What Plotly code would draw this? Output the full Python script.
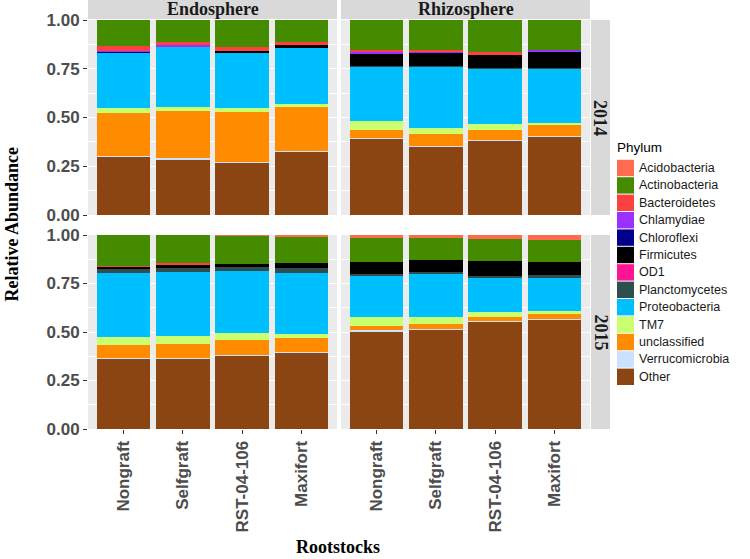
import plotly.graph_objects as go

# ---------------- data ----------------
rootstocks = ["Nongraft", "Selfgraft", "RST-04-106", "Maxifort"]
compartments = ["Endosphere", "Rhizosphere"]
years = ["2014", "2015"]
phyla = ["Acidobacteria", "Actinobacteria", "Bacteroidetes", "Chlamydiae", "Chloroflexi",
         "Firmicutes", "OD1", "Planctomycetes", "Proteobacteria", "TM7", "unclassified",
         "Verrucomicrobia", "Other"]
phylum_colors = ["#FF6A50", "#458B00", "#FF4040", "#9B30FF", "#00008B", "#000000", "#FF1493",
                 "#2F4F4F", "#00BFFF", "#CAFF70", "#FF8C00", "#CAE1FF", "#8B4513"]

# each list: Endo-2014 (4 rootstocks), Rhizo-2014 (4), Endo-2015 (4), Rhizo-2015 (4)
acidobacteria   = [0.000, 0.000, 0.000, 0.000,  0.000, 0.000, 0.000, 0.000,  0.000, 0.000, 0.005, 0.006,  0.014, 0.014, 0.022, 0.027]
actinobacteria  = [0.132, 0.115, 0.138, 0.114,  0.153, 0.152, 0.166, 0.154,  0.160, 0.146, 0.144, 0.138,  0.123, 0.115, 0.112, 0.113]
bacteroidetes   = [0.027, 0.010, 0.021, 0.014,  0.009, 0.010, 0.010, 0.000,  0.003, 0.005, 0.000, 0.000,  0.000, 0.000, 0.000, 0.000]
chlamydiae      = [0.003, 0.012, 0.000, 0.000,  0.010, 0.005, 0.000, 0.008,  0.000, 0.000, 0.000, 0.000,  0.000, 0.000, 0.000, 0.000]
chloroflexi     = [0.003, 0.000, 0.000, 0.000,  0.000, 0.000, 0.000, 0.000,  0.000, 0.000, 0.000, 0.000,  0.000, 0.000, 0.000, 0.000]
firmicutes      = [0.000, 0.000, 0.012, 0.014,  0.066, 0.071, 0.072, 0.083,  0.014, 0.017, 0.018, 0.025,  0.064, 0.060, 0.077, 0.066]
od1             = [0.000, 0.000, 0.000, 0.000,  0.000, 0.000, 0.000, 0.000,  0.000, 0.000, 0.000, 0.000,  0.000, 0.000, 0.000, 0.000]
planctomycetes  = [0.000, 0.000, 0.000, 0.000,  0.003, 0.003, 0.003, 0.003,  0.021, 0.021, 0.017, 0.025,  0.009, 0.014, 0.009, 0.014]
proteobacteria  = [0.288, 0.311, 0.280, 0.290,  0.277, 0.315, 0.281, 0.278,  0.326, 0.332, 0.323, 0.315,  0.211, 0.221, 0.175, 0.170]
tm7             = [0.024, 0.017, 0.019, 0.014,  0.048, 0.029, 0.032, 0.011,  0.043, 0.041, 0.034, 0.020,  0.048, 0.035, 0.029, 0.017]
unclassified    = [0.220, 0.245, 0.257, 0.226,  0.039, 0.063, 0.051, 0.059,  0.066, 0.071, 0.075, 0.075,  0.023, 0.024, 0.020, 0.026]
verrucomicrobia = [0.003, 0.003, 0.003, 0.003,  0.002, 0.002, 0.002, 0.002,  0.003, 0.003, 0.003, 0.003,  0.003, 0.003, 0.003, 0.003]
other           = [0.300, 0.287, 0.270, 0.325,  0.393, 0.350, 0.383, 0.402,  0.364, 0.364, 0.381, 0.393,  0.505, 0.514, 0.553, 0.564]

series = [acidobacteria, actinobacteria, bacteroidetes, chlamydiae, chloroflexi, firmicutes, od1,
          planctomycetes, proteobacteria, tm7, unclassified, verrucomicrobia, other]
y_ticks = [0, 0.25, 0.5, 0.75, 1.0]
y_ticktext = ["0.00", "0.25", "0.50", "0.75", "1.00"]

# ---------------- layout geometry ----------------
W, H = 750, 559
def px(x):
    return x / W
def py(y):
    return 1 - y / H

col_dom = [[px(88), px(337)], [px(341), px(590)]]
row_dom = [[py(215), py(20)], [py(429), py(235)]]

SANS = "Liberation Sans, Arial, sans-serif"
SERIF = "Liberation Serif, Times New Roman, serif"

fig = go.Figure()
for p in range(4):
    r, c = divmod(p, 2)
    suf = "" if p == 0 else str(p + 1)
    for name, col, vals in reversed(list(zip(phyla, phylum_colors, series))):
        fig.add_trace(go.Bar(
            x=rootstocks, y=vals[p * 4:(p + 1) * 4], name=name,
            marker=dict(color=col, line=dict(width=0)), width=0.9,
            xaxis="x" + suf, yaxis="y" + suf, showlegend=False,
            hovertemplate=name + ": %{y}<extra></extra>"))

layout = dict(width=W, height=H, autosize=False,
              margin=dict(l=0, r=0, t=0, b=0, pad=0, autoexpand=False),
              paper_bgcolor="white", plot_bgcolor="#EBEBEB", barmode="stack", bargap=0, showlegend=False)
for p in range(4):
    r, c = divmod(p, 2)
    suf = "" if p == 0 else str(p + 1)
    layout["xaxis" + suf] = dict(
        domain=col_dom[c], anchor="y" + suf, type="category", automargin=False,
        categoryorder="array", categoryarray=rootstocks, range=[-0.6, 3.6],
        showgrid=True, gridcolor="white", gridwidth=1.1, zeroline=False, showline=False,
        showticklabels=(r == 1), ticks="outside" if r == 1 else "", ticklen=4,
        tickcolor="#333333", tickangle=-90,
        tickfont=dict(family=SANS, size=17, color="#4D4D4D", weight="bold"))
    layout["yaxis" + suf] = dict(
        domain=row_dom[r], anchor="x" + suf, range=[0, 1], tickvals=y_ticks, ticktext=y_ticktext,
        automargin=False,
        showgrid=True, gridcolor="white", gridwidth=1.1, zeroline=False, showline=False,
        minor=dict(dtick=0.125, tick0=0, showgrid=True, gridcolor="white", gridwidth=0.5, ticks=""),
        showticklabels=(c == 0), ticks="outside" if c == 0 else "", ticklen=4, tickcolor="#333333",
        tickfont=dict(family=SANS, size=17, color="#4D4D4D", weight="bold"))

shapes, annotations = [], []
# facet strips (columns)
for c, comp in enumerate(compartments):
    shapes.append(dict(type="rect", xref="paper", yref="paper", x0=col_dom[c][0], x1=col_dom[c][1],
                       y0=py(19), y1=py(0), fillcolor="#D9D9D9", line=dict(width=0), layer="below"))
    annotations.append(dict(text="<b>" + comp + "</b>", xref="paper", yref="paper",
                            x=(col_dom[c][0] + col_dom[c][1]) / 2, y=py(9.5), showarrow=False,
                            xanchor="center", yanchor="middle", font=dict(family=SERIF, size=18, color="#1A1A1A")))
# facet strips (rows)
for r, yr in enumerate(years):
    shapes.append(dict(type="rect", xref="paper", yref="paper", x0=px(591), x1=px(610),
                       y0=row_dom[r][0], y1=row_dom[r][1], fillcolor="#D9D9D9", line=dict(width=0), layer="below"))
    annotations.append(dict(text="<b>" + yr + "</b>", xref="paper", yref="paper",
                            x=px(600.5), y=(row_dom[r][0] + row_dom[r][1]) / 2, showarrow=False,
                            textangle=90, xanchor="center", yanchor="middle",
                            font=dict(family=SERIF, size=18, color="#1A1A1A")))
# axis titles
annotations.append(dict(text="<b>Relative Abundance</b>", xref="paper", yref="paper", x=px(11), y=py(224.5),
                        showarrow=False, textangle=-90, xanchor="center", yanchor="middle",
                        font=dict(family=SERIF, size=18, color="#000000")))
annotations.append(dict(text="<b>Rootstocks</b>", xref="paper", yref="paper", x=px(338), y=py(547),
                        showarrow=False, xanchor="center", yanchor="middle",
                        font=dict(family=SERIF, size=18, color="#000000")))
# legend (ggplot-style keys)
first_center, key_step = 168, 17.4
annotations.append(dict(text="Phylum", xref="paper", yref="paper", x=px(615), y=py(148), showarrow=False,
                        xanchor="left", yanchor="middle", font=dict(family=SANS, size=13.5, color="#000000")))
for i, (name, col) in enumerate(zip(phyla, phylum_colors)):
    yc = first_center + i * key_step
    shapes.append(dict(type="rect", xref="paper", yref="paper", x0=px(617), x1=px(634),
                       y0=py(yc + 8.2), y1=py(yc - 8.2), fillcolor=col, line=dict(width=0)))
    annotations.append(dict(text=name, xref="paper", yref="paper", x=px(637), y=py(yc), showarrow=False,
                            xanchor="left", yanchor="middle", font=dict(family=SANS, size=12.5, color="#1A1A1A")))

layout["shapes"] = shapes
layout["annotations"] = annotations
fig.update_layout(**layout)
fig.write_html("out.html", config={"displayModeBar": False},
               post_script="document.body.style.margin='0';document.body.style.overflow='hidden';")
